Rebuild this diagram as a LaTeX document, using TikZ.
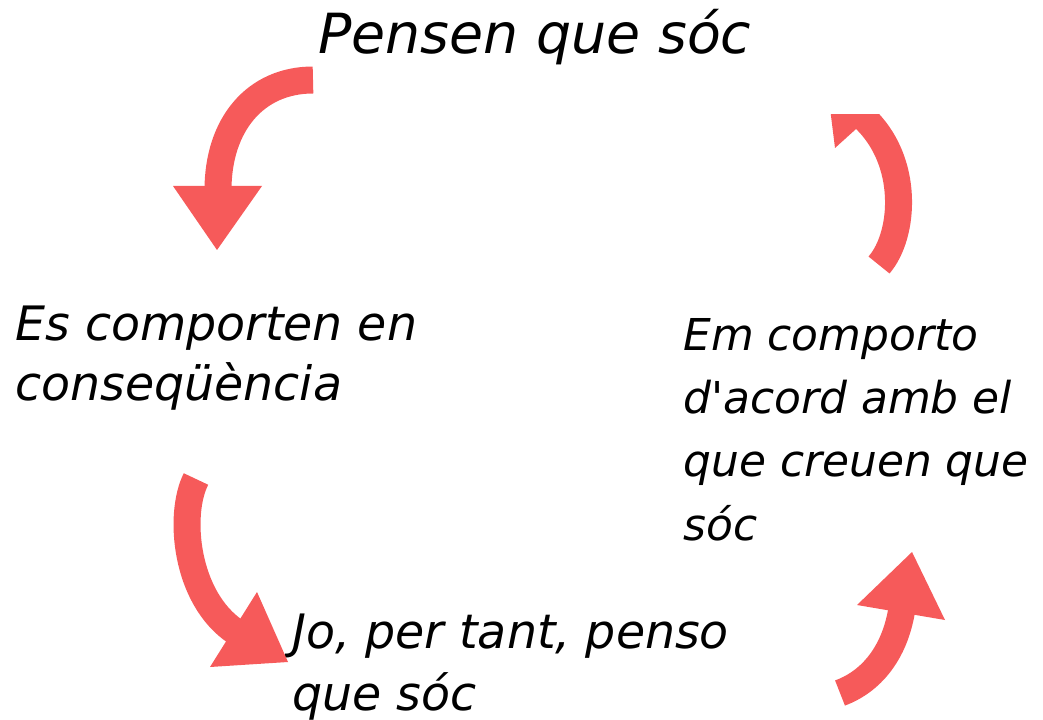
\documentclass[tikz,border=0pt]{standalone}
\usepackage{fontspec}
\setmainfont{DejaVu Sans}
\usetikzlibrary{positioning}
\definecolor{vermell}{HTML}{F65A5A}
\tikzset{
  txt/.style={anchor=base west, align=left, inner sep=0pt,
    font=\itshape\fontsize{27}{35}\selectfont},
  corba/.style={draw=vermell, line width=0.54cm},
  punta/.style={fill=vermell},
}
\begin{document}
\begin{tikzpicture}[x=0.02cm, y=-0.02cm, line join=round]
\useasboundingbox (0,0) rectangle (1043,719);
% textos (base = darrera linia)
\node[txt, font=\itshape\fontsize{31.5}{36}\selectfont] (pensen) at (318,54) {Pensen que sóc};
\node[txt, font=\itshape\fontsize{27}{34}\selectfont] (comporten) at (15,400) {Es comporten en\\conseqüència};
\node[txt] (jo) at (292,710) {Jo, per tant, penso\\que sóc};
\node[txt, font=\itshape\fontsize{25}{36}\selectfont] (em) at (683,540) {Em comporto\\d\textquotesingle acord amb el\\que creuen que\\sóc};
% fletxa 1
\coordinate (a1s) at (313,80); \coordinate (a1e) at (218,190);
\draw[corba] (a1s) .. controls (255,80) and (218,125) .. (a1e);
\fill[punta] (173,186) -- (217,250) -- (262,186) -- cycle;
% fletxa 3
\coordinate (a3s) at (196,479); \coordinate (a3e) at (236,632);
\draw[corba] (a3s) .. controls (178,514) and (185,598) .. (a3e);
\fill[punta] (257,592) -- (288,662) -- (210,667) -- cycle;
% fletxa 4
\coordinate (a4s) at (840,693); \coordinate (a4e) at (902,608);
\draw[corba] (a4s) .. controls (875,680) and (896,648) .. (a4e);
\fill[punta] (857,605) -- (912,552) -- (945,620) -- cycle;
% fletxa 2 (retallada per dalt)
\begin{scope}
\clip (780,115) rectangle (960,300);
\coordinate (a2s) at (879,265); \coordinate (a2e) at (863,117);
\draw[corba] (a2s) .. controls (905,235) and (910,160) .. (a2e);
\fill[punta] (835,148) -- (826,76) -- (897,92) -- cycle;
\end{scope}
\end{tikzpicture}
\end{document}
